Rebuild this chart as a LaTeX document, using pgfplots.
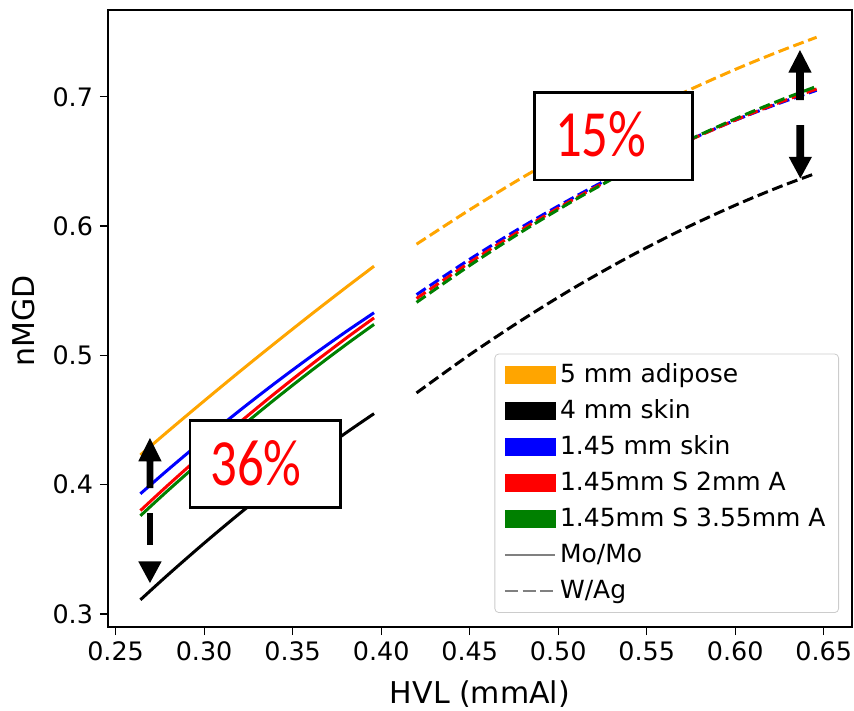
\documentclass[border=0pt]{standalone}
\usepackage{fontspec}
\setmainfont{DejaVu Sans}
\newfontfamily\calibri{Carlito}
\usepackage{graphicx}
\usepackage{pgfplots}
\pgfplotsset{compat=1.18}
\definecolor{mplorange}{RGB}{255,165,0}
\definecolor{mplgreen}{RGB}{0,128,0}
\definecolor{mplgray}{RGB}{128,128,128}
\newcommand{\patchimg}[1]{\addlegendimage{legend image code/.code={\fill[#1, fill opacity=1, sharp corners] (0pt,-4.3pt) rectangle (25pt,4.3pt);}}}
\newcommand{\lineimg}[1]{\addlegendimage{legend image code/.code={\draw[mplgray, draw opacity=1, sharp corners, line width=1.1pt, #1] (0pt,0pt) -- (25pt,0pt);}}}
\pgfplotsset{
  solidl/.style={line width=1.5pt, no markers, smooth, forget plot},
  dashl/.style={line width=1.5pt, no markers, smooth, forget plot, dash pattern=on 5.5pt off 2.4pt},
}
\begin{document}
\begin{tikzpicture}
\begin{axis}[
  scale only axis, width=372pt, height=308.5pt,
  xmin=0.2457, xmax=0.666, ymin=0.290, ymax=0.7671,
  xtick={0.25,0.30,0.35,0.40,0.45,0.50,0.55,0.60,0.65},
  ytick={0.3,0.4,0.5,0.6,0.7},
  xtick pos=bottom, ytick pos=left,
  tick align=outside, major tick length=4pt,
  every tick/.style={black, line width=0.6pt},
  axis line style={line width=0.6pt},
  /pgf/number format/assume math mode=true,
  ticklabel style={font=\fontsize{12.7}{15}\selectfont},
  xticklabel style={/pgf/number format/fixed, /pgf/number format/fixed zerofill, /pgf/number format/precision=2},
  yticklabel style={/pgf/number format/fixed, /pgf/number format/fixed zerofill, /pgf/number format/precision=1},
  label style={font=\fontsize{15}{18}\selectfont},
  xlabel={HVL (mmAl)},
  ylabel={nMGD},
  xlabel style={at={(axis description cs:0.5,-0.1237)}, anchor=base},
  ylabel style={at={(axis description cs:-0.1129,0.496)}, anchor=center},
  legend cell align=left,
  legend style={at={(rel axis cs:1,0)}, anchor=south east, xshift=-6.5pt, yshift=7pt,
    draw=black!20, rounded corners=2pt, fill=white, fill opacity=0.8, draw opacity=1, text opacity=1,
    font=\fontsize{12.5}{15}\selectfont, row sep=1.7pt, inner xsep=4.5pt, inner ysep=2.5pt,
    nodes={inner xsep=2pt, inner ysep=2pt, text height=9.6pt, text depth=2.7pt}},
]
\patchimg{mplorange}\addlegendentry{5 mm adipose}
\patchimg{black}\addlegendentry{4 mm skin}
\patchimg{blue}\addlegendentry{1.45 mm skin}
\patchimg{red}\addlegendentry{1.45mm S 2mm A}
\patchimg{mplgreen}\addlegendentry{1.45mm S 3.55mm A}
\lineimg{}\addlegendentry{Mo/Mo}
\lineimg{dash pattern=on 6.5pt off 2.3pt}\addlegendentry{W/Ag}

% Mo/Mo (solid)
\addplot[solidl, mplorange] coordinates {(0.264,0.423) (0.28,0.4418) (0.30,0.4648) (0.32,0.4874) (0.34,0.5095) (0.36,0.5312) (0.38,0.5524) (0.396,0.569)};
\addplot[solidl, black] coordinates {(0.264,0.311) (0.28,0.3309) (0.30,0.3548) (0.32,0.3777) (0.34,0.3995) (0.36,0.4203) (0.38,0.4400) (0.396,0.455)};
\addplot[solidl, blue] coordinates {(0.264,0.393) (0.28,0.4121) (0.30,0.4351) (0.32,0.4573) (0.34,0.4785) (0.36,0.4988) (0.38,0.5182) (0.396,0.533)};
\addplot[solidl, red] coordinates {(0.264,0.380) (0.28,0.4002) (0.30,0.4246) (0.32,0.4481) (0.34,0.4707) (0.36,0.4923) (0.38,0.5131) (0.396,0.529)};
\addplot[solidl, mplgreen] coordinates {(0.264,0.376) (0.28,0.3961) (0.30,0.4203) (0.32,0.4437) (0.34,0.4661) (0.36,0.4876) (0.38,0.5082) (0.396,0.524)};
% W/Ag (dashed)
\addplot[dashl, mplorange] coordinates {(0.42,0.586) (0.45,0.6126) (0.48,0.6377) (0.51,0.6610) (0.54,0.6827) (0.57,0.7027) (0.60,0.7211) (0.625,0.7351) (0.646,0.746)};
\addplot[dashl, black] coordinates {(0.42,0.471) (0.45,0.5005) (0.48,0.5278) (0.51,0.5531) (0.54,0.5762) (0.57,0.5972) (0.60,0.6161) (0.625,0.6303) (0.646,0.641)};
\addplot[dashl, blue] coordinates {(0.42,0.547) (0.45,0.5743) (0.48,0.5997) (0.51,0.6231) (0.54,0.6446) (0.57,0.6641) (0.60,0.6818) (0.625,0.6950) (0.646,0.705)};
\addplot[dashl, red] coordinates {(0.42,0.544) (0.45,0.5718) (0.48,0.5977) (0.51,0.6217) (0.54,0.6437) (0.57,0.6638) (0.60,0.6819) (0.625,0.6956) (0.646,0.706)};
\addplot[dashl, mplgreen] coordinates {(0.42,0.541) (0.45,0.5695) (0.48,0.5961) (0.51,0.6207) (0.54,0.6434) (0.57,0.6641) (0.60,0.6829) (0.625,0.6971) (0.646,0.708)};

% annotation boxes
\draw[fill=white, line width=1.3pt] (axis cs:0.292,0.4497) rectangle (axis cs:0.3771,0.3824);
\node[anchor=base, text=red, inner sep=0pt] at (axis cs:0.3293,0.3992) {\scalebox{0.8}[1]{\calibri\fontsize{33}{36}\selectfont 36\%}};
\draw[fill=white, line width=1.3pt] (axis cs:0.4865,0.7031) rectangle (axis cs:0.5758,0.6356);
\node[anchor=base, text=red, inner sep=0pt] at (axis cs:0.5241,0.6536) {\scalebox{0.8}[1]{\calibri\fontsize{33}{36}\selectfont 15\%}};

% arrows left
\fill[black] (axis cs:0.2675,0.3974) -- (axis cs:0.2713,0.3974) -- (axis cs:0.2713,0.4180) -- (axis cs:0.2760,0.4180) -- (axis cs:0.2694,0.4361) -- (axis cs:0.2628,0.4180) -- (axis cs:0.2675,0.4180) -- cycle;
\fill[black] (axis cs:0.2675,0.3781) rectangle (axis cs:0.2713,0.3536);
\fill[black] (axis cs:0.2628,0.3407) -- (axis cs:0.2760,0.3407) -- (axis cs:0.2694,0.3240) -- cycle;
% arrows right
\fill[black] (axis cs:0.6344,0.6974) -- (axis cs:0.6388,0.6974) -- (axis cs:0.6388,0.7186) -- (axis cs:0.6432,0.7186) -- (axis cs:0.6366,0.7361) -- (axis cs:0.6300,0.7186) -- (axis cs:0.6344,0.7186) -- cycle;
\fill[black] (axis cs:0.6346,0.6781) -- (axis cs:0.6390,0.6781) -- (axis cs:0.6390,0.6536) -- (axis cs:0.6434,0.6536) -- (axis cs:0.6368,0.6369) -- (axis cs:0.6302,0.6536) -- (axis cs:0.6346,0.6536) -- cycle;
\end{axis}
\pgfresetboundingbox
\path[use as bounding box] (current axis.south west) ++(-54pt,-41.5pt) rectangle ++(427pt,355pt);
\end{tikzpicture}
\end{document}
